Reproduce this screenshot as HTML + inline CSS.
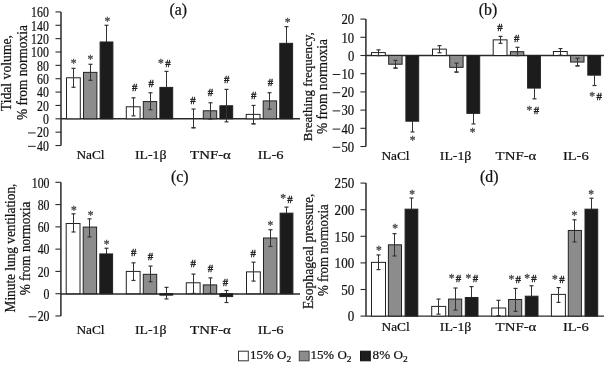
<!DOCTYPE html>
<html><head><meta charset="utf-8"><style>
html,body{margin:0;padding:0;background:#fff;}
body{width:604px;height:365px;overflow:hidden;}
svg{display:block;font-family:"Liberation Serif", serif;will-change:transform;}
text{fill:#111;}
text:not([stroke]){stroke:#111;stroke-width:0.22px;}
</style></head><body>
<svg width="604" height="365" viewBox="0 0 604 365">
<rect x="0" y="0" width="604" height="365" fill="#fff"/>
<line x1="61" y1="11.92" x2="61" y2="145.52" stroke="#2a2a2a" stroke-width="1.5"/>
<line x1="55.5" y1="145.52" x2="61" y2="145.52" stroke="#2a2a2a" stroke-width="1.1"/>
<text x="36.97" y="150.82" font-size="13.6" textLength="11.83" lengthAdjust="spacingAndGlyphs">40</text>
<line x1="28.07" y1="146.32" x2="35.67" y2="146.32" stroke="#222" stroke-width="1.0"/>
<line x1="55.5" y1="132.16" x2="61" y2="132.16" stroke="#2a2a2a" stroke-width="1.1"/>
<text x="36.97" y="137.46" font-size="13.6" textLength="11.83" lengthAdjust="spacingAndGlyphs">20</text>
<line x1="28.07" y1="132.96" x2="35.67" y2="132.96" stroke="#222" stroke-width="1.0"/>
<line x1="55.5" y1="118.8" x2="61" y2="118.8" stroke="#2a2a2a" stroke-width="1.1"/>
<text x="42.88" y="124.1" font-size="13.6" textLength="5.92" lengthAdjust="spacingAndGlyphs">0</text>
<line x1="55.5" y1="105.44" x2="61" y2="105.44" stroke="#2a2a2a" stroke-width="1.1"/>
<text x="36.97" y="110.74" font-size="13.6" textLength="11.83" lengthAdjust="spacingAndGlyphs">20</text>
<line x1="55.5" y1="92.08" x2="61" y2="92.08" stroke="#2a2a2a" stroke-width="1.1"/>
<text x="36.97" y="97.38" font-size="13.6" textLength="11.83" lengthAdjust="spacingAndGlyphs">40</text>
<line x1="55.5" y1="78.72" x2="61" y2="78.72" stroke="#2a2a2a" stroke-width="1.1"/>
<text x="36.97" y="84.02" font-size="13.6" textLength="11.83" lengthAdjust="spacingAndGlyphs">60</text>
<line x1="55.5" y1="65.36" x2="61" y2="65.36" stroke="#2a2a2a" stroke-width="1.1"/>
<text x="36.97" y="70.66" font-size="13.6" textLength="11.83" lengthAdjust="spacingAndGlyphs">80</text>
<line x1="55.5" y1="52" x2="61" y2="52" stroke="#2a2a2a" stroke-width="1.1"/>
<text x="31.05" y="57.3" font-size="13.6" textLength="17.75" lengthAdjust="spacingAndGlyphs">100</text>
<line x1="55.5" y1="38.64" x2="61" y2="38.64" stroke="#2a2a2a" stroke-width="1.1"/>
<text x="31.05" y="43.94" font-size="13.6" textLength="17.75" lengthAdjust="spacingAndGlyphs">120</text>
<line x1="55.5" y1="25.28" x2="61" y2="25.28" stroke="#2a2a2a" stroke-width="1.1"/>
<text x="31.05" y="30.58" font-size="13.6" textLength="17.75" lengthAdjust="spacingAndGlyphs">140</text>
<line x1="55.5" y1="11.92" x2="61" y2="11.92" stroke="#2a2a2a" stroke-width="1.1"/>
<text x="31.05" y="17.22" font-size="13.6" textLength="17.75" lengthAdjust="spacingAndGlyphs">160</text>
<line x1="61" y1="118.8" x2="300" y2="118.8" stroke="#2a2a2a" stroke-width="1.4"/>
<line x1="73.5" y1="68.37" x2="73.5" y2="77.78" stroke="#333" stroke-width="1.0"/>
<line x1="71.5" y1="68.37" x2="75.5" y2="68.37" stroke="#333" stroke-width="1.2"/>
<line x1="73.5" y1="87.27" x2="73.5" y2="77.78" stroke="#333" stroke-width="1.0"/>
<line x1="71.5" y1="87.27" x2="75.5" y2="87.27" stroke="#333" stroke-width="1.2"/>
<rect x="66.5" y="77.78" width="13.8" height="41.02" fill="#ffffff" stroke="#222" stroke-width="1.0"/>
<line x1="73.5" y1="87.27" x2="73.5" y2="77.78" stroke="#333" stroke-width="1.0"/>
<line x1="71.5" y1="87.27" x2="75.5" y2="87.27" stroke="#333" stroke-width="1.2"/>
<line x1="90.5" y1="64.29" x2="90.5" y2="72.37" stroke="#333" stroke-width="1.0"/>
<line x1="88.5" y1="64.29" x2="92.5" y2="64.29" stroke="#333" stroke-width="1.2"/>
<line x1="90.5" y1="80.32" x2="90.5" y2="72.37" stroke="#333" stroke-width="1.0"/>
<line x1="88.5" y1="80.32" x2="92.5" y2="80.32" stroke="#333" stroke-width="1.2"/>
<rect x="83.5" y="72.37" width="13.4" height="46.43" fill="#8c8c8c" stroke="#222" stroke-width="1.0"/>
<line x1="90.5" y1="80.32" x2="90.5" y2="72.37" stroke="#333" stroke-width="1.0"/>
<line x1="88.5" y1="80.32" x2="92.5" y2="80.32" stroke="#333" stroke-width="1.2"/>
<line x1="106.5" y1="25.28" x2="106.5" y2="41.98" stroke="#333" stroke-width="1.0"/>
<line x1="104.5" y1="25.28" x2="108.5" y2="25.28" stroke="#333" stroke-width="1.2"/>
<rect x="100.1" y="41.98" width="12.8" height="76.82" fill="#1c1c1c" stroke="#222" stroke-width="1.0"/>
<line x1="133.5" y1="97.82" x2="133.5" y2="106.78" stroke="#333" stroke-width="1.0"/>
<line x1="131.5" y1="97.82" x2="135.5" y2="97.82" stroke="#333" stroke-width="1.2"/>
<line x1="133.5" y1="115.86" x2="133.5" y2="106.78" stroke="#333" stroke-width="1.0"/>
<line x1="131.5" y1="115.86" x2="135.5" y2="115.86" stroke="#333" stroke-width="1.2"/>
<rect x="126.3" y="106.78" width="13.8" height="12.02" fill="#ffffff" stroke="#222" stroke-width="1.0"/>
<line x1="133.5" y1="115.86" x2="133.5" y2="106.78" stroke="#333" stroke-width="1.0"/>
<line x1="131.5" y1="115.86" x2="135.5" y2="115.86" stroke="#333" stroke-width="1.2"/>
<line x1="150.5" y1="92.75" x2="150.5" y2="101.57" stroke="#333" stroke-width="1.0"/>
<line x1="148.5" y1="92.75" x2="152.5" y2="92.75" stroke="#333" stroke-width="1.2"/>
<line x1="150.5" y1="109.78" x2="150.5" y2="101.57" stroke="#333" stroke-width="1.0"/>
<line x1="148.5" y1="109.78" x2="152.5" y2="109.78" stroke="#333" stroke-width="1.2"/>
<rect x="143.3" y="101.57" width="13.4" height="17.23" fill="#8c8c8c" stroke="#222" stroke-width="1.0"/>
<line x1="150.5" y1="109.78" x2="150.5" y2="101.57" stroke="#333" stroke-width="1.0"/>
<line x1="148.5" y1="109.78" x2="152.5" y2="109.78" stroke="#333" stroke-width="1.2"/>
<line x1="166.5" y1="71.37" x2="166.5" y2="87.4" stroke="#333" stroke-width="1.0"/>
<line x1="164.5" y1="71.37" x2="168.5" y2="71.37" stroke="#333" stroke-width="1.2"/>
<rect x="159.9" y="87.4" width="12.8" height="31.4" fill="#1c1c1c" stroke="#222" stroke-width="1.0"/>
<line x1="193.5" y1="109.05" x2="193.5" y2="118.8" stroke="#333" stroke-width="1.0"/>
<line x1="191.5" y1="109.05" x2="195.5" y2="109.05" stroke="#333" stroke-width="1.2"/>
<line x1="193.5" y1="127.75" x2="193.5" y2="118.8" stroke="#333" stroke-width="1.0"/>
<line x1="191.5" y1="127.75" x2="195.5" y2="127.75" stroke="#333" stroke-width="1.2"/>
<line x1="193.5" y1="127.75" x2="193.5" y2="118.8" stroke="#333" stroke-width="1.0"/>
<line x1="191.5" y1="127.75" x2="195.5" y2="127.75" stroke="#333" stroke-width="1.2"/>
<line x1="210.5" y1="102.77" x2="210.5" y2="110.78" stroke="#333" stroke-width="1.0"/>
<line x1="208.5" y1="102.77" x2="212.5" y2="102.77" stroke="#333" stroke-width="1.2"/>
<line x1="210.5" y1="118.8" x2="210.5" y2="110.78" stroke="#333" stroke-width="1.0"/>
<line x1="208.5" y1="118.8" x2="212.5" y2="118.8" stroke="#333" stroke-width="1.2"/>
<rect x="203.3" y="110.78" width="13.4" height="8.02" fill="#8c8c8c" stroke="#222" stroke-width="1.0"/>
<line x1="210.5" y1="118.8" x2="210.5" y2="110.78" stroke="#333" stroke-width="1.0"/>
<line x1="208.5" y1="118.8" x2="212.5" y2="118.8" stroke="#333" stroke-width="1.2"/>
<line x1="226.5" y1="89.41" x2="226.5" y2="105.77" stroke="#333" stroke-width="1.0"/>
<line x1="224.5" y1="89.41" x2="228.5" y2="89.41" stroke="#333" stroke-width="1.2"/>
<rect x="219.9" y="105.77" width="12.8" height="13.03" fill="#1c1c1c" stroke="#222" stroke-width="1.0"/>
<line x1="226.5" y1="121.87" x2="226.5" y2="105.77" stroke="#333" stroke-width="1.0"/>
<line x1="224.5" y1="121.87" x2="228.5" y2="121.87" stroke="#333" stroke-width="1.2"/>
<line x1="253.5" y1="105.44" x2="253.5" y2="114.39" stroke="#333" stroke-width="1.0"/>
<line x1="251.5" y1="105.44" x2="255.5" y2="105.44" stroke="#333" stroke-width="1.2"/>
<line x1="253.5" y1="123.81" x2="253.5" y2="114.39" stroke="#333" stroke-width="1.0"/>
<line x1="251.5" y1="123.81" x2="255.5" y2="123.81" stroke="#333" stroke-width="1.2"/>
<rect x="246.2" y="114.39" width="13.8" height="4.41" fill="#ffffff" stroke="#222" stroke-width="1.0"/>
<line x1="253.5" y1="123.81" x2="253.5" y2="114.39" stroke="#333" stroke-width="1.0"/>
<line x1="251.5" y1="123.81" x2="255.5" y2="123.81" stroke="#333" stroke-width="1.2"/>
<line x1="269.5" y1="92.75" x2="269.5" y2="100.9" stroke="#333" stroke-width="1.0"/>
<line x1="267.5" y1="92.75" x2="271.5" y2="92.75" stroke="#333" stroke-width="1.2"/>
<line x1="269.5" y1="109.18" x2="269.5" y2="100.9" stroke="#333" stroke-width="1.0"/>
<line x1="267.5" y1="109.18" x2="271.5" y2="109.18" stroke="#333" stroke-width="1.2"/>
<rect x="263.2" y="100.9" width="13.4" height="17.9" fill="#8c8c8c" stroke="#222" stroke-width="1.0"/>
<line x1="269.5" y1="109.18" x2="269.5" y2="100.9" stroke="#333" stroke-width="1.0"/>
<line x1="267.5" y1="109.18" x2="271.5" y2="109.18" stroke="#333" stroke-width="1.2"/>
<line x1="286.5" y1="26.62" x2="286.5" y2="43.32" stroke="#333" stroke-width="1.0"/>
<line x1="284.5" y1="26.62" x2="288.5" y2="26.62" stroke="#333" stroke-width="1.2"/>
<rect x="279.8" y="43.32" width="12.8" height="75.48" fill="#1c1c1c" stroke="#222" stroke-width="1.0"/>
<text x="76.4" y="158.9" font-size="13" textLength="28.2" lengthAdjust="spacingAndGlyphs">NaCl</text>
<text x="134.9" y="158.9" font-size="13" textLength="31.6" lengthAdjust="spacingAndGlyphs">IL-1&#946;</text>
<text x="190.1" y="158.9" font-size="13" textLength="40.8" lengthAdjust="spacingAndGlyphs">TNF-&#945;</text>
<text x="257.7" y="158.9" font-size="13" textLength="25.8" lengthAdjust="spacingAndGlyphs">IL-6</text>
<text x="73.6" y="66.8" font-size="11.5" text-anchor="middle" fill="#555" stroke="#555" stroke-width="0.3">*</text>
<text x="90.4" y="62.8" font-size="11.5" text-anchor="middle" fill="#555" stroke="#555" stroke-width="0.3">*</text>
<text x="107.4" y="25.3" font-size="11.5" text-anchor="middle" fill="#555" stroke="#555" stroke-width="0.3">*</text>
<text x="132.1" y="91.3" font-size="11" textLength="5.4" lengthAdjust="spacingAndGlyphs" fill="#1a1a1a" stroke="#1a1a1a" stroke-width="0.35">#</text>
<text x="148.5" y="86.8" font-size="11" textLength="5.4" lengthAdjust="spacingAndGlyphs" fill="#1a1a1a" stroke="#1a1a1a" stroke-width="0.35">#</text>
<text x="160.85" y="66.55" font-size="11.5" text-anchor="middle" fill="#555" stroke="#555" stroke-width="0.3">*</text>
<text x="165.15" y="66.85" font-size="11" textLength="5.4" lengthAdjust="spacingAndGlyphs" fill="#1a1a1a" stroke="#1a1a1a" stroke-width="0.35">#</text>
<text x="190.3" y="104.3" font-size="11" textLength="5.4" lengthAdjust="spacingAndGlyphs" fill="#1a1a1a" stroke="#1a1a1a" stroke-width="0.35">#</text>
<text x="207.7" y="96.4" font-size="11" textLength="5.4" lengthAdjust="spacingAndGlyphs" fill="#1a1a1a" stroke="#1a1a1a" stroke-width="0.35">#</text>
<text x="223.9" y="83.3" font-size="11" textLength="5.4" lengthAdjust="spacingAndGlyphs" fill="#1a1a1a" stroke="#1a1a1a" stroke-width="0.35">#</text>
<text x="250.9" y="98.6" font-size="11" textLength="5.4" lengthAdjust="spacingAndGlyphs" fill="#1a1a1a" stroke="#1a1a1a" stroke-width="0.35">#</text>
<text x="267.8" y="86.2" font-size="11" textLength="5.4" lengthAdjust="spacingAndGlyphs" fill="#1a1a1a" stroke="#1a1a1a" stroke-width="0.35">#</text>
<text x="287.5" y="26.3" font-size="11.5" text-anchor="middle" fill="#555" stroke="#555" stroke-width="0.3">*</text>
<text x="169.6" y="14.7" font-size="15.8" text-anchor="start" >(a)</text>
<text transform="translate(11.2,111.2) rotate(-90)" font-size="14" textLength="76.2" lengthAdjust="spacingAndGlyphs">Tidal volume,</text>
<text transform="translate(26.5,120) rotate(-90)" font-size="14" textLength="94.8" lengthAdjust="spacingAndGlyphs">% from normoxia</text>
<line x1="365.9" y1="19.1" x2="365.9" y2="146.5" stroke="#2a2a2a" stroke-width="1.5"/>
<line x1="360.4" y1="146.5" x2="365.9" y2="146.5" stroke="#2a2a2a" stroke-width="1.1"/>
<text x="341.55" y="151.8" font-size="13.6" textLength="12.65" lengthAdjust="spacingAndGlyphs">50</text>
<line x1="332.65" y1="147.3" x2="340.25" y2="147.3" stroke="#222" stroke-width="1.0"/>
<line x1="360.4" y1="128.3" x2="365.9" y2="128.3" stroke="#2a2a2a" stroke-width="1.1"/>
<text x="341.55" y="133.6" font-size="13.6" textLength="12.65" lengthAdjust="spacingAndGlyphs">40</text>
<line x1="332.65" y1="129.1" x2="340.25" y2="129.1" stroke="#222" stroke-width="1.0"/>
<line x1="360.4" y1="110.1" x2="365.9" y2="110.1" stroke="#2a2a2a" stroke-width="1.1"/>
<text x="341.55" y="115.4" font-size="13.6" textLength="12.65" lengthAdjust="spacingAndGlyphs">30</text>
<line x1="332.65" y1="110.9" x2="340.25" y2="110.9" stroke="#222" stroke-width="1.0"/>
<line x1="360.4" y1="91.9" x2="365.9" y2="91.9" stroke="#2a2a2a" stroke-width="1.1"/>
<text x="341.55" y="97.2" font-size="13.6" textLength="12.65" lengthAdjust="spacingAndGlyphs">20</text>
<line x1="332.65" y1="92.7" x2="340.25" y2="92.7" stroke="#222" stroke-width="1.0"/>
<line x1="360.4" y1="73.7" x2="365.9" y2="73.7" stroke="#2a2a2a" stroke-width="1.1"/>
<text x="341.55" y="79" font-size="13.6" textLength="12.65" lengthAdjust="spacingAndGlyphs">10</text>
<line x1="332.65" y1="74.5" x2="340.25" y2="74.5" stroke="#222" stroke-width="1.0"/>
<line x1="360.4" y1="55.5" x2="365.9" y2="55.5" stroke="#2a2a2a" stroke-width="1.1"/>
<text x="347.88" y="60.8" font-size="13.6" textLength="6.32" lengthAdjust="spacingAndGlyphs">0</text>
<line x1="360.4" y1="37.3" x2="365.9" y2="37.3" stroke="#2a2a2a" stroke-width="1.1"/>
<text x="341.55" y="42.6" font-size="13.6" textLength="12.65" lengthAdjust="spacingAndGlyphs">10</text>
<line x1="360.4" y1="19.1" x2="365.9" y2="19.1" stroke="#2a2a2a" stroke-width="1.1"/>
<text x="341.55" y="24.4" font-size="13.6" textLength="12.65" lengthAdjust="spacingAndGlyphs">20</text>
<line x1="365.9" y1="55.5" x2="604" y2="55.5" stroke="#2a2a2a" stroke-width="1.4"/>
<line x1="378.5" y1="49.86" x2="378.5" y2="52.59" stroke="#333" stroke-width="1.0"/>
<line x1="376.5" y1="49.86" x2="380.5" y2="49.86" stroke="#333" stroke-width="1.2"/>
<line x1="378.5" y1="55.5" x2="378.5" y2="52.59" stroke="#333" stroke-width="1.0"/>
<line x1="376.5" y1="55.5" x2="380.5" y2="55.5" stroke="#333" stroke-width="1.2"/>
<rect x="371.5" y="52.59" width="13.8" height="2.91" fill="#ffffff" stroke="#222" stroke-width="1.0"/>
<line x1="378.5" y1="55.5" x2="378.5" y2="52.59" stroke="#333" stroke-width="1.0"/>
<line x1="376.5" y1="55.5" x2="380.5" y2="55.5" stroke="#333" stroke-width="1.2"/>
<line x1="395.5" y1="60.41" x2="395.5" y2="64.24" stroke="#333" stroke-width="1.0"/>
<line x1="393.5" y1="60.41" x2="397.5" y2="60.41" stroke="#333" stroke-width="1.2"/>
<line x1="395.5" y1="68.06" x2="395.5" y2="64.24" stroke="#333" stroke-width="1.0"/>
<line x1="393.5" y1="68.06" x2="397.5" y2="68.06" stroke="#333" stroke-width="1.2"/>
<rect x="388.7" y="55.5" width="13.4" height="8.74" fill="#8c8c8c" stroke="#222" stroke-width="1.0"/>
<line x1="395.5" y1="68.06" x2="395.5" y2="64.24" stroke="#333" stroke-width="1.0"/>
<line x1="393.5" y1="68.06" x2="397.5" y2="68.06" stroke="#333" stroke-width="1.2"/>
<line x1="395.5" y1="60.41" x2="395.5" y2="64.24" stroke="#333" stroke-width="1.0"/>
<line x1="393.5" y1="60.41" x2="397.5" y2="60.41" stroke="#333" stroke-width="1.2"/>
<rect x="405.9" y="55.5" width="12.8" height="65.7" fill="#1c1c1c" stroke="#222" stroke-width="1.0"/>
<line x1="412.5" y1="131.94" x2="412.5" y2="121.2" stroke="#333" stroke-width="1.0"/>
<line x1="410.5" y1="131.94" x2="414.5" y2="131.94" stroke="#333" stroke-width="1.2"/>
<line x1="439.5" y1="45.67" x2="439.5" y2="49.13" stroke="#333" stroke-width="1.0"/>
<line x1="437.5" y1="45.67" x2="441.5" y2="45.67" stroke="#333" stroke-width="1.2"/>
<line x1="439.5" y1="52.77" x2="439.5" y2="49.13" stroke="#333" stroke-width="1.0"/>
<line x1="437.5" y1="52.77" x2="441.5" y2="52.77" stroke="#333" stroke-width="1.2"/>
<rect x="432.5" y="49.13" width="13.8" height="6.37" fill="#ffffff" stroke="#222" stroke-width="1.0"/>
<line x1="439.5" y1="52.77" x2="439.5" y2="49.13" stroke="#333" stroke-width="1.0"/>
<line x1="437.5" y1="52.77" x2="441.5" y2="52.77" stroke="#333" stroke-width="1.2"/>
<line x1="456.5" y1="63.14" x2="456.5" y2="67.33" stroke="#333" stroke-width="1.0"/>
<line x1="454.5" y1="63.14" x2="458.5" y2="63.14" stroke="#333" stroke-width="1.2"/>
<line x1="456.5" y1="72.06" x2="456.5" y2="67.33" stroke="#333" stroke-width="1.0"/>
<line x1="454.5" y1="72.06" x2="458.5" y2="72.06" stroke="#333" stroke-width="1.2"/>
<rect x="449.7" y="55.5" width="13.4" height="11.83" fill="#8c8c8c" stroke="#222" stroke-width="1.0"/>
<line x1="456.5" y1="72.06" x2="456.5" y2="67.33" stroke="#333" stroke-width="1.0"/>
<line x1="454.5" y1="72.06" x2="458.5" y2="72.06" stroke="#333" stroke-width="1.2"/>
<line x1="456.5" y1="63.14" x2="456.5" y2="67.33" stroke="#333" stroke-width="1.0"/>
<line x1="454.5" y1="63.14" x2="458.5" y2="63.14" stroke="#333" stroke-width="1.2"/>
<rect x="466.9" y="55.5" width="12.8" height="57.88" fill="#1c1c1c" stroke="#222" stroke-width="1.0"/>
<line x1="473.5" y1="123.93" x2="473.5" y2="113.38" stroke="#333" stroke-width="1.0"/>
<line x1="471.5" y1="123.93" x2="475.5" y2="123.93" stroke="#333" stroke-width="1.2"/>
<line x1="500.5" y1="36.39" x2="500.5" y2="39.85" stroke="#333" stroke-width="1.0"/>
<line x1="498.5" y1="36.39" x2="502.5" y2="36.39" stroke="#333" stroke-width="1.2"/>
<line x1="500.5" y1="43.31" x2="500.5" y2="39.85" stroke="#333" stroke-width="1.0"/>
<line x1="498.5" y1="43.31" x2="502.5" y2="43.31" stroke="#333" stroke-width="1.2"/>
<rect x="493.2" y="39.85" width="13.8" height="15.65" fill="#ffffff" stroke="#222" stroke-width="1.0"/>
<line x1="500.5" y1="43.31" x2="500.5" y2="39.85" stroke="#333" stroke-width="1.0"/>
<line x1="498.5" y1="43.31" x2="502.5" y2="43.31" stroke="#333" stroke-width="1.2"/>
<line x1="517.5" y1="47.31" x2="517.5" y2="51.68" stroke="#333" stroke-width="1.0"/>
<line x1="515.5" y1="47.31" x2="519.5" y2="47.31" stroke="#333" stroke-width="1.2"/>
<line x1="517.5" y1="55.5" x2="517.5" y2="51.68" stroke="#333" stroke-width="1.0"/>
<line x1="515.5" y1="55.5" x2="519.5" y2="55.5" stroke="#333" stroke-width="1.2"/>
<rect x="510.4" y="51.68" width="13.4" height="3.82" fill="#8c8c8c" stroke="#222" stroke-width="1.0"/>
<line x1="517.5" y1="55.5" x2="517.5" y2="51.68" stroke="#333" stroke-width="1.0"/>
<line x1="515.5" y1="55.5" x2="519.5" y2="55.5" stroke="#333" stroke-width="1.2"/>
<rect x="527.6" y="55.5" width="12.8" height="32.58" fill="#1c1c1c" stroke="#222" stroke-width="1.0"/>
<line x1="534.5" y1="98.82" x2="534.5" y2="88.08" stroke="#333" stroke-width="1.0"/>
<line x1="532.5" y1="98.82" x2="536.5" y2="98.82" stroke="#333" stroke-width="1.2"/>
<line x1="560.5" y1="48.58" x2="560.5" y2="51.5" stroke="#333" stroke-width="1.0"/>
<line x1="558.5" y1="48.58" x2="562.5" y2="48.58" stroke="#333" stroke-width="1.2"/>
<line x1="560.5" y1="55.14" x2="560.5" y2="51.5" stroke="#333" stroke-width="1.0"/>
<line x1="558.5" y1="55.14" x2="562.5" y2="55.14" stroke="#333" stroke-width="1.2"/>
<rect x="553.4" y="51.5" width="13.8" height="4" fill="#ffffff" stroke="#222" stroke-width="1.0"/>
<line x1="560.5" y1="55.14" x2="560.5" y2="51.5" stroke="#333" stroke-width="1.0"/>
<line x1="558.5" y1="55.14" x2="562.5" y2="55.14" stroke="#333" stroke-width="1.2"/>
<line x1="577.5" y1="58.23" x2="577.5" y2="62.05" stroke="#333" stroke-width="1.0"/>
<line x1="575.5" y1="58.23" x2="579.5" y2="58.23" stroke="#333" stroke-width="1.2"/>
<line x1="577.5" y1="65.87" x2="577.5" y2="62.05" stroke="#333" stroke-width="1.0"/>
<line x1="575.5" y1="65.87" x2="579.5" y2="65.87" stroke="#333" stroke-width="1.2"/>
<rect x="570.6" y="55.5" width="13.4" height="6.55" fill="#8c8c8c" stroke="#222" stroke-width="1.0"/>
<line x1="577.5" y1="65.87" x2="577.5" y2="62.05" stroke="#333" stroke-width="1.0"/>
<line x1="575.5" y1="65.87" x2="579.5" y2="65.87" stroke="#333" stroke-width="1.2"/>
<line x1="577.5" y1="58.23" x2="577.5" y2="62.05" stroke="#333" stroke-width="1.0"/>
<line x1="575.5" y1="58.23" x2="579.5" y2="58.23" stroke="#333" stroke-width="1.2"/>
<rect x="587.8" y="55.5" width="12.8" height="19.66" fill="#1c1c1c" stroke="#222" stroke-width="1.0"/>
<line x1="594.5" y1="85.53" x2="594.5" y2="75.16" stroke="#333" stroke-width="1.0"/>
<line x1="592.5" y1="85.53" x2="596.5" y2="85.53" stroke="#333" stroke-width="1.2"/>
<text x="381.4" y="159.6" font-size="13" textLength="28.2" lengthAdjust="spacingAndGlyphs">NaCl</text>
<text x="439.8" y="159.6" font-size="13" textLength="31.6" lengthAdjust="spacingAndGlyphs">IL-1&#946;</text>
<text x="495.6" y="159.6" font-size="13" textLength="40.8" lengthAdjust="spacingAndGlyphs">TNF-&#945;</text>
<text x="562.9" y="159.6" font-size="13" textLength="25.8" lengthAdjust="spacingAndGlyphs">IL-6</text>
<text x="412.5" y="143.9" font-size="11.5" text-anchor="middle" fill="#555" stroke="#555" stroke-width="0.3">*</text>
<text x="472.5" y="135.6" font-size="11.5" text-anchor="middle" fill="#555" stroke="#555" stroke-width="0.3">*</text>
<text x="497.2" y="30.9" font-size="11" textLength="5.4" lengthAdjust="spacingAndGlyphs" fill="#1a1a1a" stroke="#1a1a1a" stroke-width="0.35">#</text>
<text x="513.9" y="42.4" font-size="11" textLength="5.4" lengthAdjust="spacingAndGlyphs" fill="#1a1a1a" stroke="#1a1a1a" stroke-width="0.35">#</text>
<text x="529.45" y="113.75" font-size="11.5" text-anchor="middle" fill="#555" stroke="#555" stroke-width="0.3">*</text>
<text x="533.75" y="114.05" font-size="11" textLength="5.4" lengthAdjust="spacingAndGlyphs" fill="#1a1a1a" stroke="#1a1a1a" stroke-width="0.35">#</text>
<text x="592.1" y="100.15" font-size="11.5" text-anchor="middle" fill="#555" stroke="#555" stroke-width="0.3">*</text>
<text x="596.4" y="100.45" font-size="11" textLength="5.4" lengthAdjust="spacingAndGlyphs" fill="#1a1a1a" stroke="#1a1a1a" stroke-width="0.35">#</text>
<text x="478.8" y="14.7" font-size="15.8" text-anchor="start" >(b)</text>
<text transform="translate(312.4,141.2) rotate(-90)" font-size="12.8" textLength="109" lengthAdjust="spacingAndGlyphs">Breathing frequency,</text>
<text transform="translate(326.6,134) rotate(-90)" font-size="14" textLength="94.9" lengthAdjust="spacingAndGlyphs">% from normoxia</text>
<line x1="60.9" y1="182.3" x2="60.9" y2="315.98" stroke="#2a2a2a" stroke-width="1.5"/>
<line x1="55.4" y1="315.98" x2="60.9" y2="315.98" stroke="#2a2a2a" stroke-width="1.1"/>
<text x="37.67" y="321.28" font-size="13.6" textLength="11.83" lengthAdjust="spacingAndGlyphs">20</text>
<line x1="28.77" y1="316.78" x2="36.37" y2="316.78" stroke="#222" stroke-width="1.0"/>
<line x1="55.4" y1="293.7" x2="60.9" y2="293.7" stroke="#2a2a2a" stroke-width="1.1"/>
<text x="43.58" y="299" font-size="13.6" textLength="5.92" lengthAdjust="spacingAndGlyphs">0</text>
<line x1="55.4" y1="271.42" x2="60.9" y2="271.42" stroke="#2a2a2a" stroke-width="1.1"/>
<text x="37.67" y="276.72" font-size="13.6" textLength="11.83" lengthAdjust="spacingAndGlyphs">20</text>
<line x1="55.4" y1="249.14" x2="60.9" y2="249.14" stroke="#2a2a2a" stroke-width="1.1"/>
<text x="37.67" y="254.44" font-size="13.6" textLength="11.83" lengthAdjust="spacingAndGlyphs">40</text>
<line x1="55.4" y1="226.86" x2="60.9" y2="226.86" stroke="#2a2a2a" stroke-width="1.1"/>
<text x="37.67" y="232.16" font-size="13.6" textLength="11.83" lengthAdjust="spacingAndGlyphs">60</text>
<line x1="55.4" y1="204.58" x2="60.9" y2="204.58" stroke="#2a2a2a" stroke-width="1.1"/>
<text x="37.67" y="209.88" font-size="13.6" textLength="11.83" lengthAdjust="spacingAndGlyphs">80</text>
<line x1="55.4" y1="182.3" x2="60.9" y2="182.3" stroke="#2a2a2a" stroke-width="1.1"/>
<text x="31.75" y="187.6" font-size="13.6" textLength="17.75" lengthAdjust="spacingAndGlyphs">100</text>
<line x1="60.9" y1="294" x2="300" y2="294" stroke="#2a2a2a" stroke-width="1.4"/>
<line x1="73.5" y1="213.83" x2="73.5" y2="223.52" stroke="#333" stroke-width="1.0"/>
<line x1="71.5" y1="213.83" x2="75.5" y2="213.83" stroke="#333" stroke-width="1.2"/>
<line x1="73.5" y1="231.98" x2="73.5" y2="223.52" stroke="#333" stroke-width="1.0"/>
<line x1="71.5" y1="231.98" x2="75.5" y2="231.98" stroke="#333" stroke-width="1.2"/>
<rect x="66.2" y="223.52" width="13.8" height="70.18" fill="#ffffff" stroke="#222" stroke-width="1.0"/>
<line x1="73.5" y1="231.98" x2="73.5" y2="223.52" stroke="#333" stroke-width="1.0"/>
<line x1="71.5" y1="231.98" x2="75.5" y2="231.98" stroke="#333" stroke-width="1.2"/>
<line x1="89.5" y1="218.84" x2="89.5" y2="227.08" stroke="#333" stroke-width="1.0"/>
<line x1="87.5" y1="218.84" x2="91.5" y2="218.84" stroke="#333" stroke-width="1.2"/>
<line x1="89.5" y1="236.89" x2="89.5" y2="227.08" stroke="#333" stroke-width="1.0"/>
<line x1="87.5" y1="236.89" x2="91.5" y2="236.89" stroke="#333" stroke-width="1.2"/>
<rect x="83.2" y="227.08" width="13.4" height="66.62" fill="#8c8c8c" stroke="#222" stroke-width="1.0"/>
<line x1="89.5" y1="236.89" x2="89.5" y2="227.08" stroke="#333" stroke-width="1.0"/>
<line x1="87.5" y1="236.89" x2="91.5" y2="236.89" stroke="#333" stroke-width="1.2"/>
<line x1="106.5" y1="248.25" x2="106.5" y2="253.93" stroke="#333" stroke-width="1.0"/>
<line x1="104.5" y1="248.25" x2="108.5" y2="248.25" stroke="#333" stroke-width="1.2"/>
<rect x="99.8" y="253.93" width="12.8" height="39.77" fill="#1c1c1c" stroke="#222" stroke-width="1.0"/>
<line x1="133.5" y1="262.84" x2="133.5" y2="271.42" stroke="#333" stroke-width="1.0"/>
<line x1="131.5" y1="262.84" x2="135.5" y2="262.84" stroke="#333" stroke-width="1.2"/>
<line x1="133.5" y1="280.44" x2="133.5" y2="271.42" stroke="#333" stroke-width="1.0"/>
<line x1="131.5" y1="280.44" x2="135.5" y2="280.44" stroke="#333" stroke-width="1.2"/>
<rect x="126.3" y="271.42" width="13.8" height="22.28" fill="#ffffff" stroke="#222" stroke-width="1.0"/>
<line x1="133.5" y1="280.44" x2="133.5" y2="271.42" stroke="#333" stroke-width="1.0"/>
<line x1="131.5" y1="280.44" x2="135.5" y2="280.44" stroke="#333" stroke-width="1.2"/>
<line x1="150.5" y1="266.07" x2="150.5" y2="274.32" stroke="#333" stroke-width="1.0"/>
<line x1="148.5" y1="266.07" x2="152.5" y2="266.07" stroke="#333" stroke-width="1.2"/>
<line x1="150.5" y1="281.67" x2="150.5" y2="274.32" stroke="#333" stroke-width="1.0"/>
<line x1="148.5" y1="281.67" x2="152.5" y2="281.67" stroke="#333" stroke-width="1.2"/>
<rect x="143.3" y="274.32" width="13.4" height="19.38" fill="#8c8c8c" stroke="#222" stroke-width="1.0"/>
<line x1="150.5" y1="281.67" x2="150.5" y2="274.32" stroke="#333" stroke-width="1.0"/>
<line x1="148.5" y1="281.67" x2="152.5" y2="281.67" stroke="#333" stroke-width="1.2"/>
<line x1="166.5" y1="287.35" x2="166.5" y2="295.15" stroke="#333" stroke-width="1.0"/>
<line x1="164.5" y1="287.35" x2="168.5" y2="287.35" stroke="#333" stroke-width="1.2"/>
<rect x="159.9" y="293.7" width="12.8" height="1.45" fill="#1c1c1c" stroke="#222" stroke-width="1.0"/>
<line x1="166.5" y1="298.94" x2="166.5" y2="295.15" stroke="#333" stroke-width="1.0"/>
<line x1="164.5" y1="298.94" x2="168.5" y2="298.94" stroke="#333" stroke-width="1.2"/>
<line x1="193.5" y1="274.09" x2="193.5" y2="282.78" stroke="#333" stroke-width="1.0"/>
<line x1="191.5" y1="274.09" x2="195.5" y2="274.09" stroke="#333" stroke-width="1.2"/>
<line x1="193.5" y1="293.37" x2="193.5" y2="282.78" stroke="#333" stroke-width="1.0"/>
<line x1="191.5" y1="293.37" x2="195.5" y2="293.37" stroke="#333" stroke-width="1.2"/>
<rect x="186.3" y="282.78" width="13.8" height="10.92" fill="#ffffff" stroke="#222" stroke-width="1.0"/>
<line x1="193.5" y1="293.37" x2="193.5" y2="282.78" stroke="#333" stroke-width="1.0"/>
<line x1="191.5" y1="293.37" x2="195.5" y2="293.37" stroke="#333" stroke-width="1.2"/>
<line x1="210.5" y1="277.88" x2="210.5" y2="284.9" stroke="#333" stroke-width="1.0"/>
<line x1="208.5" y1="277.88" x2="212.5" y2="277.88" stroke="#333" stroke-width="1.2"/>
<line x1="210.5" y1="293.37" x2="210.5" y2="284.9" stroke="#333" stroke-width="1.0"/>
<line x1="208.5" y1="293.37" x2="212.5" y2="293.37" stroke="#333" stroke-width="1.2"/>
<rect x="203.3" y="284.9" width="13.4" height="8.8" fill="#8c8c8c" stroke="#222" stroke-width="1.0"/>
<line x1="210.5" y1="293.37" x2="210.5" y2="284.9" stroke="#333" stroke-width="1.0"/>
<line x1="208.5" y1="293.37" x2="212.5" y2="293.37" stroke="#333" stroke-width="1.2"/>
<line x1="226.5" y1="290.47" x2="226.5" y2="296.6" stroke="#333" stroke-width="1.0"/>
<line x1="224.5" y1="290.47" x2="228.5" y2="290.47" stroke="#333" stroke-width="1.2"/>
<rect x="219.9" y="293.7" width="12.8" height="2.9" fill="#1c1c1c" stroke="#222" stroke-width="1.0"/>
<line x1="226.5" y1="302.5" x2="226.5" y2="296.6" stroke="#333" stroke-width="1.0"/>
<line x1="224.5" y1="302.5" x2="228.5" y2="302.5" stroke="#333" stroke-width="1.2"/>
<line x1="253.5" y1="262.17" x2="253.5" y2="271.87" stroke="#333" stroke-width="1.0"/>
<line x1="251.5" y1="262.17" x2="255.5" y2="262.17" stroke="#333" stroke-width="1.2"/>
<line x1="253.5" y1="281.11" x2="253.5" y2="271.87" stroke="#333" stroke-width="1.0"/>
<line x1="251.5" y1="281.11" x2="255.5" y2="281.11" stroke="#333" stroke-width="1.2"/>
<rect x="246.5" y="271.87" width="13.8" height="21.83" fill="#ffffff" stroke="#222" stroke-width="1.0"/>
<line x1="253.5" y1="281.11" x2="253.5" y2="271.87" stroke="#333" stroke-width="1.0"/>
<line x1="251.5" y1="281.11" x2="255.5" y2="281.11" stroke="#333" stroke-width="1.2"/>
<line x1="270.5" y1="229.76" x2="270.5" y2="238" stroke="#333" stroke-width="1.0"/>
<line x1="268.5" y1="229.76" x2="272.5" y2="229.76" stroke="#333" stroke-width="1.2"/>
<line x1="270.5" y1="246.47" x2="270.5" y2="238" stroke="#333" stroke-width="1.0"/>
<line x1="268.5" y1="246.47" x2="272.5" y2="246.47" stroke="#333" stroke-width="1.2"/>
<rect x="263.5" y="238" width="13.4" height="55.7" fill="#8c8c8c" stroke="#222" stroke-width="1.0"/>
<line x1="270.5" y1="246.47" x2="270.5" y2="238" stroke="#333" stroke-width="1.0"/>
<line x1="268.5" y1="246.47" x2="272.5" y2="246.47" stroke="#333" stroke-width="1.2"/>
<line x1="286.5" y1="207.14" x2="286.5" y2="213.16" stroke="#333" stroke-width="1.0"/>
<line x1="284.5" y1="207.14" x2="288.5" y2="207.14" stroke="#333" stroke-width="1.2"/>
<rect x="280.1" y="213.16" width="12.8" height="80.54" fill="#1c1c1c" stroke="#222" stroke-width="1.0"/>
<text x="76.4" y="333.8" font-size="13" textLength="28.2" lengthAdjust="spacingAndGlyphs">NaCl</text>
<text x="134.9" y="333.8" font-size="13" textLength="31.6" lengthAdjust="spacingAndGlyphs">IL-1&#946;</text>
<text x="190.1" y="333.8" font-size="13" textLength="40.8" lengthAdjust="spacingAndGlyphs">TNF-&#945;</text>
<text x="257.7" y="333.8" font-size="13" textLength="25.8" lengthAdjust="spacingAndGlyphs">IL-6</text>
<text x="73.8" y="213.8" font-size="11.5" text-anchor="middle" fill="#555" stroke="#555" stroke-width="0.3">*</text>
<text x="90.7" y="218.6" font-size="11.5" text-anchor="middle" fill="#555" stroke="#555" stroke-width="0.3">*</text>
<text x="106.7" y="247.9" font-size="11.5" text-anchor="middle" fill="#555" stroke="#555" stroke-width="0.3">*</text>
<text x="130.95" y="256.3" font-size="11" textLength="5.4" lengthAdjust="spacingAndGlyphs" fill="#1a1a1a" stroke="#1a1a1a" stroke-width="0.35">#</text>
<text x="147.65" y="260.3" font-size="11" textLength="5.4" lengthAdjust="spacingAndGlyphs" fill="#1a1a1a" stroke="#1a1a1a" stroke-width="0.35">#</text>
<text x="190.6" y="266.5" font-size="11" textLength="5.4" lengthAdjust="spacingAndGlyphs" fill="#1a1a1a" stroke="#1a1a1a" stroke-width="0.35">#</text>
<text x="207.7" y="271.7" font-size="11" textLength="5.4" lengthAdjust="spacingAndGlyphs" fill="#1a1a1a" stroke="#1a1a1a" stroke-width="0.35">#</text>
<text x="222.7" y="285.6" font-size="11" textLength="5.4" lengthAdjust="spacingAndGlyphs" fill="#1a1a1a" stroke="#1a1a1a" stroke-width="0.35">#</text>
<text x="250.6" y="256.6" font-size="11" textLength="5.4" lengthAdjust="spacingAndGlyphs" fill="#1a1a1a" stroke="#1a1a1a" stroke-width="0.35">#</text>
<text x="270.3" y="228.6" font-size="11.5" text-anchor="middle" fill="#555" stroke="#555" stroke-width="0.3">*</text>
<text x="283.05" y="202.4" font-size="11.5" text-anchor="middle" fill="#555" stroke="#555" stroke-width="0.3">*</text>
<text x="287.35" y="202.7" font-size="11" textLength="5.4" lengthAdjust="spacingAndGlyphs" fill="#1a1a1a" stroke="#1a1a1a" stroke-width="0.35">#</text>
<text x="171" y="181.8" font-size="15.8" text-anchor="start" >(c)</text>
<text transform="translate(15.3,312.4) rotate(-90)" font-size="14" textLength="128.8" lengthAdjust="spacingAndGlyphs">Minute lung ventilation,</text>
<text transform="translate(29.7,295.3) rotate(-90)" font-size="14" textLength="93.7" lengthAdjust="spacingAndGlyphs">% from normoxia</text>
<line x1="366" y1="183.1" x2="366" y2="316.1" stroke="#2a2a2a" stroke-width="1.5"/>
<line x1="360.5" y1="316.1" x2="366" y2="316.1" stroke="#2a2a2a" stroke-width="1.1"/>
<text x="347.67" y="321.4" font-size="13.6" textLength="6.53" lengthAdjust="spacingAndGlyphs">0</text>
<line x1="360.5" y1="289.5" x2="366" y2="289.5" stroke="#2a2a2a" stroke-width="1.1"/>
<text x="341.14" y="294.8" font-size="13.6" textLength="13.06" lengthAdjust="spacingAndGlyphs">50</text>
<line x1="360.5" y1="262.9" x2="366" y2="262.9" stroke="#2a2a2a" stroke-width="1.1"/>
<text x="334.62" y="268.2" font-size="13.6" textLength="19.58" lengthAdjust="spacingAndGlyphs">100</text>
<line x1="360.5" y1="236.3" x2="366" y2="236.3" stroke="#2a2a2a" stroke-width="1.1"/>
<text x="334.62" y="241.6" font-size="13.6" textLength="19.58" lengthAdjust="spacingAndGlyphs">150</text>
<line x1="360.5" y1="209.7" x2="366" y2="209.7" stroke="#2a2a2a" stroke-width="1.1"/>
<text x="334.62" y="215" font-size="13.6" textLength="19.58" lengthAdjust="spacingAndGlyphs">200</text>
<line x1="360.5" y1="183.1" x2="366" y2="183.1" stroke="#2a2a2a" stroke-width="1.1"/>
<text x="334.62" y="188.4" font-size="13.6" textLength="19.58" lengthAdjust="spacingAndGlyphs">250</text>
<line x1="366" y1="316.1" x2="604" y2="316.1" stroke="#2a2a2a" stroke-width="1.4"/>
<line x1="378.5" y1="254.92" x2="378.5" y2="262.37" stroke="#333" stroke-width="1.0"/>
<line x1="376.5" y1="254.92" x2="380.5" y2="254.92" stroke="#333" stroke-width="1.2"/>
<line x1="378.5" y1="269.6" x2="378.5" y2="262.37" stroke="#333" stroke-width="1.0"/>
<line x1="376.5" y1="269.6" x2="380.5" y2="269.6" stroke="#333" stroke-width="1.2"/>
<rect x="371.5" y="262.37" width="14" height="53.73" fill="#ffffff" stroke="#222" stroke-width="1.0"/>
<line x1="378.5" y1="269.6" x2="378.5" y2="262.37" stroke="#333" stroke-width="1.0"/>
<line x1="376.5" y1="269.6" x2="380.5" y2="269.6" stroke="#333" stroke-width="1.2"/>
<line x1="394.5" y1="233.64" x2="394.5" y2="244.81" stroke="#333" stroke-width="1.0"/>
<line x1="392.5" y1="233.64" x2="396.5" y2="233.64" stroke="#333" stroke-width="1.2"/>
<line x1="394.5" y1="255.98" x2="394.5" y2="244.81" stroke="#333" stroke-width="1.0"/>
<line x1="392.5" y1="255.98" x2="396.5" y2="255.98" stroke="#333" stroke-width="1.2"/>
<rect x="388.4" y="244.81" width="13.1" height="71.29" fill="#8c8c8c" stroke="#222" stroke-width="1.0"/>
<line x1="394.5" y1="255.98" x2="394.5" y2="244.81" stroke="#333" stroke-width="1.0"/>
<line x1="392.5" y1="255.98" x2="396.5" y2="255.98" stroke="#333" stroke-width="1.2"/>
<line x1="411.5" y1="198" x2="411.5" y2="209.17" stroke="#333" stroke-width="1.0"/>
<line x1="409.5" y1="198" x2="413.5" y2="198" stroke="#333" stroke-width="1.2"/>
<rect x="405.1" y="209.17" width="12.7" height="106.93" fill="#1c1c1c" stroke="#222" stroke-width="1.0"/>
<line x1="438.5" y1="299.08" x2="438.5" y2="306.42" stroke="#333" stroke-width="1.0"/>
<line x1="436.5" y1="299.08" x2="440.5" y2="299.08" stroke="#333" stroke-width="1.2"/>
<line x1="438.5" y1="314.18" x2="438.5" y2="306.42" stroke="#333" stroke-width="1.0"/>
<line x1="436.5" y1="314.18" x2="440.5" y2="314.18" stroke="#333" stroke-width="1.2"/>
<rect x="431.7" y="306.42" width="14" height="9.68" fill="#ffffff" stroke="#222" stroke-width="1.0"/>
<line x1="438.5" y1="314.18" x2="438.5" y2="306.42" stroke="#333" stroke-width="1.0"/>
<line x1="436.5" y1="314.18" x2="440.5" y2="314.18" stroke="#333" stroke-width="1.2"/>
<line x1="455.5" y1="288.01" x2="455.5" y2="299.08" stroke="#333" stroke-width="1.0"/>
<line x1="453.5" y1="288.01" x2="457.5" y2="288.01" stroke="#333" stroke-width="1.2"/>
<line x1="455.5" y1="310.09" x2="455.5" y2="299.08" stroke="#333" stroke-width="1.0"/>
<line x1="453.5" y1="310.09" x2="457.5" y2="310.09" stroke="#333" stroke-width="1.2"/>
<rect x="448.6" y="299.08" width="13.1" height="17.02" fill="#8c8c8c" stroke="#222" stroke-width="1.0"/>
<line x1="455.5" y1="310.09" x2="455.5" y2="299.08" stroke="#333" stroke-width="1.0"/>
<line x1="453.5" y1="310.09" x2="457.5" y2="310.09" stroke="#333" stroke-width="1.2"/>
<line x1="471.5" y1="286.57" x2="471.5" y2="297.48" stroke="#333" stroke-width="1.0"/>
<line x1="469.5" y1="286.57" x2="473.5" y2="286.57" stroke="#333" stroke-width="1.2"/>
<rect x="465.3" y="297.48" width="12.7" height="18.62" fill="#1c1c1c" stroke="#222" stroke-width="1.0"/>
<line x1="498.5" y1="300.3" x2="498.5" y2="308.01" stroke="#333" stroke-width="1.0"/>
<line x1="496.5" y1="300.3" x2="500.5" y2="300.3" stroke="#333" stroke-width="1.2"/>
<line x1="498.5" y1="315.57" x2="498.5" y2="308.01" stroke="#333" stroke-width="1.0"/>
<line x1="496.5" y1="315.57" x2="500.5" y2="315.57" stroke="#333" stroke-width="1.2"/>
<rect x="491.7" y="308.01" width="14" height="8.09" fill="#ffffff" stroke="#222" stroke-width="1.0"/>
<line x1="498.5" y1="315.57" x2="498.5" y2="308.01" stroke="#333" stroke-width="1.0"/>
<line x1="496.5" y1="315.57" x2="500.5" y2="315.57" stroke="#333" stroke-width="1.2"/>
<line x1="515.5" y1="288.44" x2="515.5" y2="299.5" stroke="#333" stroke-width="1.0"/>
<line x1="513.5" y1="288.44" x2="517.5" y2="288.44" stroke="#333" stroke-width="1.2"/>
<line x1="515.5" y1="311.31" x2="515.5" y2="299.5" stroke="#333" stroke-width="1.0"/>
<line x1="513.5" y1="311.31" x2="517.5" y2="311.31" stroke="#333" stroke-width="1.2"/>
<rect x="508.6" y="299.5" width="13.1" height="16.6" fill="#8c8c8c" stroke="#222" stroke-width="1.0"/>
<line x1="515.5" y1="311.31" x2="515.5" y2="299.5" stroke="#333" stroke-width="1.0"/>
<line x1="513.5" y1="311.31" x2="517.5" y2="311.31" stroke="#333" stroke-width="1.2"/>
<line x1="531.5" y1="285.78" x2="531.5" y2="296.2" stroke="#333" stroke-width="1.0"/>
<line x1="529.5" y1="285.78" x2="533.5" y2="285.78" stroke="#333" stroke-width="1.2"/>
<rect x="525.3" y="296.2" width="12.7" height="19.9" fill="#1c1c1c" stroke="#222" stroke-width="1.0"/>
<line x1="558.5" y1="287.58" x2="558.5" y2="294.39" stroke="#333" stroke-width="1.0"/>
<line x1="556.5" y1="287.58" x2="560.5" y2="287.58" stroke="#333" stroke-width="1.2"/>
<line x1="558.5" y1="302.43" x2="558.5" y2="294.39" stroke="#333" stroke-width="1.0"/>
<line x1="556.5" y1="302.43" x2="560.5" y2="302.43" stroke="#333" stroke-width="1.2"/>
<rect x="551.4" y="294.39" width="14" height="21.71" fill="#ffffff" stroke="#222" stroke-width="1.0"/>
<line x1="558.5" y1="302.43" x2="558.5" y2="294.39" stroke="#333" stroke-width="1.0"/>
<line x1="556.5" y1="302.43" x2="560.5" y2="302.43" stroke="#333" stroke-width="1.2"/>
<line x1="574.5" y1="219.81" x2="574.5" y2="230.45" stroke="#333" stroke-width="1.0"/>
<line x1="572.5" y1="219.81" x2="576.5" y2="219.81" stroke="#333" stroke-width="1.2"/>
<line x1="574.5" y1="241.89" x2="574.5" y2="230.45" stroke="#333" stroke-width="1.0"/>
<line x1="572.5" y1="241.89" x2="576.5" y2="241.89" stroke="#333" stroke-width="1.2"/>
<rect x="568.3" y="230.45" width="13.1" height="85.65" fill="#8c8c8c" stroke="#222" stroke-width="1.0"/>
<line x1="574.5" y1="241.89" x2="574.5" y2="230.45" stroke="#333" stroke-width="1.0"/>
<line x1="572.5" y1="241.89" x2="576.5" y2="241.89" stroke="#333" stroke-width="1.2"/>
<line x1="591.5" y1="198.21" x2="591.5" y2="209.17" stroke="#333" stroke-width="1.0"/>
<line x1="589.5" y1="198.21" x2="593.5" y2="198.21" stroke="#333" stroke-width="1.2"/>
<rect x="585" y="209.17" width="12.7" height="106.93" fill="#1c1c1c" stroke="#222" stroke-width="1.0"/>
<text x="381.5" y="330.5" font-size="13" textLength="28.2" lengthAdjust="spacingAndGlyphs">NaCl</text>
<text x="439.8" y="330.5" font-size="13" textLength="31.6" lengthAdjust="spacingAndGlyphs">IL-1&#946;</text>
<text x="495.6" y="330.5" font-size="13" textLength="40.8" lengthAdjust="spacingAndGlyphs">TNF-&#945;</text>
<text x="562.9" y="330.5" font-size="13" textLength="25.8" lengthAdjust="spacingAndGlyphs">IL-6</text>
<text x="378.8" y="253.7" font-size="11.5" text-anchor="middle" fill="#555" stroke="#555" stroke-width="0.3">*</text>
<text x="395.2" y="231.8" font-size="11.5" text-anchor="middle" fill="#555" stroke="#555" stroke-width="0.3">*</text>
<text x="412" y="198.3" font-size="11.5" text-anchor="middle" fill="#555" stroke="#555" stroke-width="0.3">*</text>
<text x="451.55" y="281.65" font-size="11.5" text-anchor="middle" fill="#555" stroke="#555" stroke-width="0.3">*</text>
<text x="455.85" y="281.95" font-size="11" textLength="5.4" lengthAdjust="spacingAndGlyphs" fill="#1a1a1a" stroke="#1a1a1a" stroke-width="0.35">#</text>
<text x="468.45" y="281.65" font-size="11.5" text-anchor="middle" fill="#555" stroke="#555" stroke-width="0.3">*</text>
<text x="472.75" y="281.95" font-size="11" textLength="5.4" lengthAdjust="spacingAndGlyphs" fill="#1a1a1a" stroke="#1a1a1a" stroke-width="0.35">#</text>
<text x="511.25" y="282.95" font-size="11.5" text-anchor="middle" fill="#555" stroke="#555" stroke-width="0.3">*</text>
<text x="515.55" y="283.25" font-size="11" textLength="5.4" lengthAdjust="spacingAndGlyphs" fill="#1a1a1a" stroke="#1a1a1a" stroke-width="0.35">#</text>
<text x="527" y="281.65" font-size="11.5" text-anchor="middle" fill="#555" stroke="#555" stroke-width="0.3">*</text>
<text x="531.3" y="281.95" font-size="11" textLength="5.4" lengthAdjust="spacingAndGlyphs" fill="#1a1a1a" stroke="#1a1a1a" stroke-width="0.35">#</text>
<text x="554.85" y="282.85" font-size="11.5" text-anchor="middle" fill="#555" stroke="#555" stroke-width="0.3">*</text>
<text x="559.15" y="283.15" font-size="11" textLength="5.4" lengthAdjust="spacingAndGlyphs" fill="#1a1a1a" stroke="#1a1a1a" stroke-width="0.35">#</text>
<text x="574.3" y="218.9" font-size="11.5" text-anchor="middle" fill="#555" stroke="#555" stroke-width="0.3">*</text>
<text x="591" y="197.9" font-size="11.5" text-anchor="middle" fill="#555" stroke="#555" stroke-width="0.3">*</text>
<text x="480" y="181.8" font-size="15.8" text-anchor="start" >(d)</text>
<text transform="translate(313.4,309) rotate(-90)" font-size="14" textLength="115.4" lengthAdjust="spacingAndGlyphs">Esophageal pressure,</text>
<text transform="translate(328.4,296) rotate(-90)" font-size="14" textLength="91.8" lengthAdjust="spacingAndGlyphs">% from normoxia</text>
<rect x="238.5" y="351.2" width="9.8" height="9.6" fill="#ffffff" stroke="#333" stroke-width="1.0"/>
<text x="250" y="359.1" font-size="12.5" text-anchor="start" textLength="41.1" lengthAdjust="spacingAndGlyphs">15% O<tspan font-size="9" dy="3.0">2</tspan></text>
<rect x="299.3" y="351.2" width="9.8" height="9.6" fill="#8c8c8c" stroke="#444" stroke-width="1.0"/>
<text x="310.4" y="359.1" font-size="12.5" text-anchor="start" textLength="41.1" lengthAdjust="spacingAndGlyphs">15% O<tspan font-size="9" dy="3.0">2</tspan></text>
<rect x="360.5" y="351.2" width="9.8" height="9.6" fill="#1c1c1c" stroke="#111" stroke-width="1.0"/>
<text x="372.6" y="359.1" font-size="12.5" text-anchor="start" textLength="35.1" lengthAdjust="spacingAndGlyphs">8% O<tspan font-size="9" dy="3.0">2</tspan></text>
</svg>
</body></html>
